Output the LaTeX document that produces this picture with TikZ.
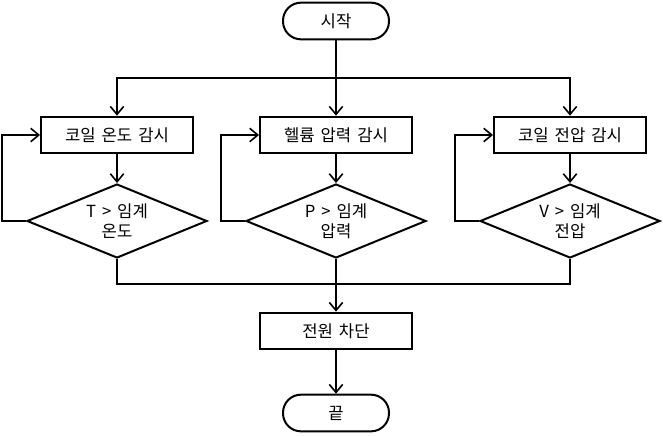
\documentclass[tikz,border=0pt]{standalone}
\usepackage{fontspec}
\setmainfont[WordSpace=1.6]{Noto Sans CJK KR}
\usetikzlibrary{shapes.geometric,arrows.meta}
\begin{document}
\begin{tikzpicture}[x=0.75pt,y=-0.75pt,line width=1.5pt,font=\fontsize{12.5}{15}\selectfont,
    >={Straight Barb[length=6pt,width=10pt,line width=1.2pt]},
    term/.style={draw,rounded corners=13.5pt,minimum width=79.5pt,minimum height=27.5pt,inner sep=0pt},
    proc/.style={draw,minimum width=114pt,minimum height=27.5pt,inner sep=0pt},
    test/.style={draw,diamond,aspect=2.4,minimum width=135pt,minimum height=55.5pt,inner sep=0pt,align=center}]
      \useasboundingbox (0,0) rectangle (663,435);
      \draw
        (336,21) node[term] (start){시작}
        (117,135) node[proc] (b1){코일 온도 감시}
        (336,135) node[proc] (b2){헬륨 압력 감시}
        (570,135) node[proc] (b3){코일 전압 감시}
        (117,221) node[test] (d1){T > 임계\\온도}
        (336,221) node[test] (d2){P > 임계\\압력}
        (570,221) node[test] (d3){V > 임계\\전압}
        (336,331) node[proc] (off){전원 차단}
        (336,413) node[term] (end){끝};
      \coordinate (split) at (336,78);
      \coordinate (join) at (336,284);
      \begin{scope}[->]
        \draw (start) -- (split) -| (b1);
        \draw (split) -- (b2);
        \draw (split) -| (b3);
        \draw (b1) -- (d1);
        \draw (b2) -- (d2);
        \draw (b3) -- (d3);
        \draw (d1.west) -- ++(-24,0) |- (b1);
        \draw (d2.west) -- ++(-24,0) |- (b2);
        \draw (d3.west) -- ++(-24,0) |- (b3);
        \draw (d2) -- (off);
        \draw (off) -- (end);
      \end{scope}
      \draw (d1.south) |- (join);
      \draw (d3.south) |- (join);
    \end{tikzpicture}
\end{document}
